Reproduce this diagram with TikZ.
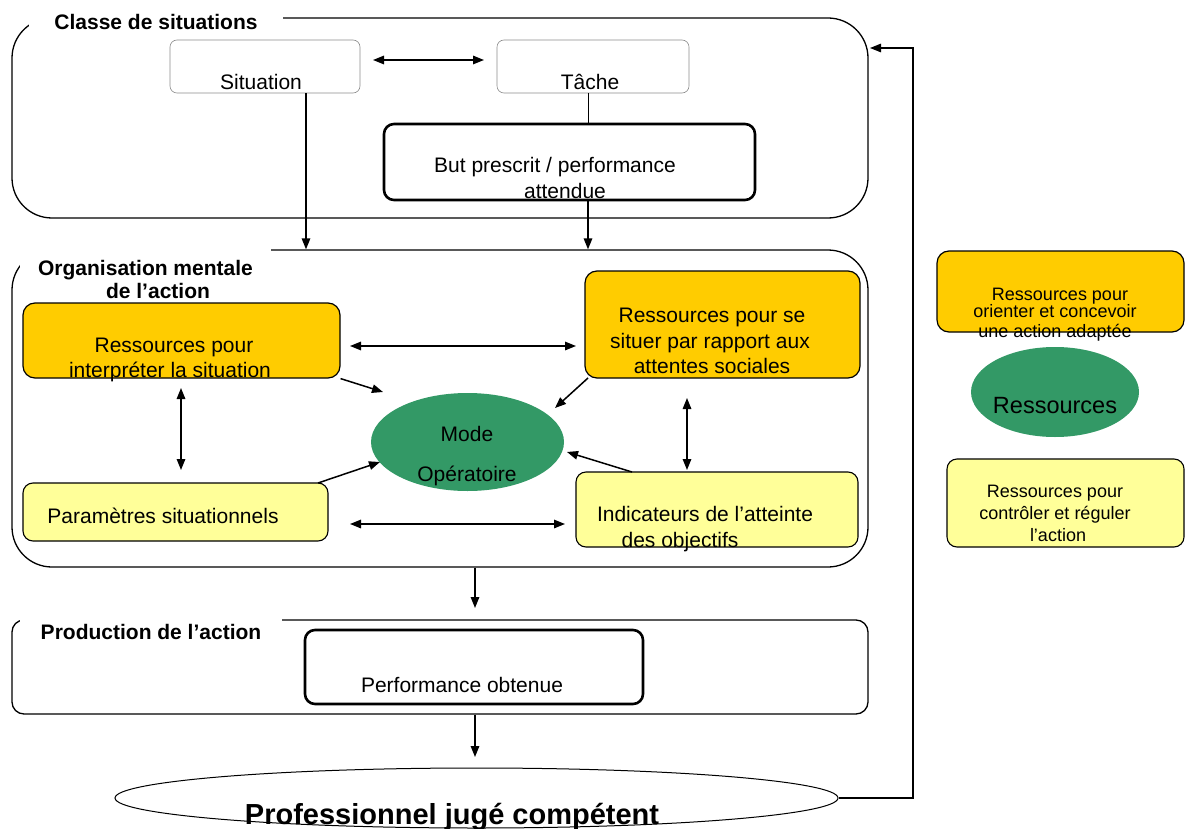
\documentclass[tikz,border=0pt]{standalone}
\usepackage{fontspec}
\setmainfont{Liberation Sans}
\usetikzlibrary{arrows.meta,shapes.geometric,calc}
\definecolor{orC}{HTML}{FFCC00}
\definecolor{yeC}{HTML}{FFFF99}
\definecolor{grC}{HTML}{339966}
\begin{document}
\begin{tikzpicture}[x=1pt,y=-1pt,
  font=\fontsize{21}{25}\selectfont,
  frame/.style={draw, line width=1.3pt, rounded corners=40pt, inner sep=0pt},
  lbl/.style={font=\bfseries\fontsize{21}{23}\selectfont, fill=white, inner ysep=6pt},
  txt/.style={anchor=base, inner sep=0pt},
  thinbox/.style={draw=black!45, line width=0.6pt, rounded corners=7pt, inner sep=0pt},
  thickbox/.style={draw, line width=2.6pt, rounded corners=10pt, inner sep=0pt},
  orbox/.style={draw, fill=orC, line width=1.2pt, rounded corners=12pt, inner sep=0pt},
  yebox/.style={draw, fill=yeC, line width=1.1pt, rounded corners=10pt, inner sep=0pt},
  arr/.style={line width=1.5pt, -{Triangle[length=11pt,width=8.5pt]}},
  darr/.style={line width=1.5pt, {Triangle[length=11pt,width=8.5pt]}-{Triangle[length=11pt,width=8.5pt]}}
]
\useasboundingbox (0,0) rectangle (1185,829);

% frames
\node[frame, minimum width=856pt, minimum height=200pt] (C1) at (440,118) {};
\node[frame, minimum width=856pt, minimum height=317pt] (C2) at (440,408.5) {};
\node[frame, rounded corners=12pt, minimum width=856pt, minimum height=94pt] (C3) at (440,667) {};

% frame labels
\node[lbl, anchor=base, inner xsep=25pt] (L1) at (156,30) {Classe de situations};
\node[lbl, anchor=base, inner xsep=18pt, inner ysep=11pt] (L2) at (145.5,275) {Organisation mentale};
\node[txt, font=\bfseries\fontsize{21}{23}\selectfont] (L2b) at (158,298) {de l’action};
\node[lbl, anchor=base, inner xsep=21pt] (L3) at (151,639) {Production de l’action};

% class of situations
\node[thinbox, minimum width=190pt, minimum height=53pt] (sit) at (265,66.5) {};
\node[thinbox, minimum width=192pt, minimum height=53pt] (tache) at (593,66.5) {};
\node[txt] (tsit) at (261,90) {Situation};
\node[txt] (ttache) at (590,90) {Tâche};
\node[thickbox, minimum width=371pt, minimum height=76pt] (but) at (569.5,162) {};
\node[txt] (tbut1) at (555,173) {But prescrit / performance};
\node[txt] (tbut2) at (565,199) {attendue};

\coordinate (xs) at (306,0);
\coordinate (xb) at (588,0);
\coordinate (a1) at (373,60);
\coordinate (a2) at (484,60);
\draw[darr] (a1) -- (a2);
\draw[line width=1pt] (tache.south -| xb) -- (but.north -| xb);
\draw[arr] (sit.south -| xs) -- (C2.north -| xs);
\draw[arr] (but.south -| xb) -- (C2.north -| xb);

% mental organisation
\node[orbox, minimum width=317pt, minimum height=75pt] (o1) at (181.5,340.5) {};
\node[txt] (to1a) at (174,352) {Ressources pour};
\node[txt] (to1b) at (170,377) {interpréter la situation};
\node[orbox, minimum width=275pt, minimum height=107pt] (o2) at (722.5,324.5) {};
\node[txt] (to2a) at (712,322) {Ressources pour se};
\node[txt] (to2b) at (710,348) {situer par rapport aux};
\node[txt] (to2c) at (712,373) {attentes sociales};
\node[ellipse, fill=grC, minimum width=193pt, minimum height=98pt, inner sep=0pt] (mode) at (467.5,442) {};
\node[txt] (tm1) at (467,441) {Mode};
\node[txt] (tm2) at (467,481) {Opératoire};
\node[yebox, minimum width=305pt, minimum height=58pt] (par) at (175.5,512) {};
\node[txt] (tpar) at (163,523) {Paramètres situationnels};
\node[yebox, minimum width=282pt, minimum height=75pt] (ind) at (717,509.5) {};
\node[txt] (tind1) at (705,521) {Indicateurs de l’atteinte};
\node[txt] (tind2) at (680,547) {des objectifs};

\coordinate (b1) at (350,346);
\coordinate (b2) at (576,346);
\draw[darr] (b1) -- (b2);
\coordinate (b3) at (350,524);
\coordinate (b4) at (565,524);
\draw[darr] (b3) -- (b4);
\coordinate (v1) at (181,388);
\coordinate (v2) at (181,470);
\draw[darr] (v1) -- (v2);
\coordinate (v3) at (687,398);
\coordinate (v4) at (687,470);
\draw[darr] (v3) -- (v4);
\coordinate (m1) at (383,392);
\draw[arr] (o1.south east) -- (m1);
\coordinate (s2) at (588,378);
\coordinate (m2) at (555,408);
\draw[arr] (s2) -- (m2);
\coordinate (s3) at (318,483);
\coordinate (m3) at (380,462);
\draw[arr] (s3) -- (m3);
\coordinate (s4) at (632,472);
\coordinate (m4) at (567,452);
\draw[arr] (s4) -- (m4);

% production
\coordinate (p1) at (475,608);
\draw[arr] (C2.south -| p1) -- (p1);
\node[thickbox, minimum width=338pt, minimum height=74pt] (perf) at (474,667) {};
\node[txt] (tperf) at (462,692) {Performance obtenue};

% final ellipse
\node[ellipse, draw, line width=1pt, fill=white, minimum width=723pt, minimum height=60pt, inner sep=0pt] (big) at (476.5,798) {};
\node[txt, font=\bfseries\fontsize{29}{32}\selectfont] (tbig) at (452,824) {Professionnel jugé compétent};
\coordinate (p2) at (475,757);
\draw[arr] (C3.south -| p2) -- (p2);

% feedback loop
\coordinate (fb) at (913,48);
\coordinate (c1r) at (870,48);
\draw[arr, line width=1.2pt] (big.east) -| (fb) -- (c1r);

% legend
\node[orbox, minimum width=247pt, minimum height=81pt] (lg1) at (1060.5,291.5) {};
\node[txt, font=\fontsize{18}{20}\selectfont] (tlg1a) at (1060,300) {Ressources pour};
\node[txt, font=\fontsize{18}{20}\selectfont] (tlg1b) at (1055,317) {orienter et concevoir};
\node[txt, font=\fontsize{18}{20}\selectfont] (tlg1c) at (1055,337) {une action adaptée};
\node[ellipse, fill=grC, minimum width=168pt, minimum height=90pt, inner sep=0pt] (lg2) at (1055,392) {};
\node[txt, font=\fontsize{23.5}{26}\selectfont] (tlg2) at (1055,413) {Ressources};
\node[yebox, minimum width=237pt, minimum height=88pt] (lg3) at (1065.5,503) {};
\node[txt, font=\fontsize{18}{20}\selectfont] (tlg3a) at (1055,497) {Ressources pour};
\node[txt, font=\fontsize{18}{20}\selectfont] (tlg3b) at (1055,519) {contrôler et réguler};
\node[txt, font=\fontsize{18}{20}\selectfont] (tlg3c) at (1058,541) {l’action};
\end{tikzpicture}
\end{document}
